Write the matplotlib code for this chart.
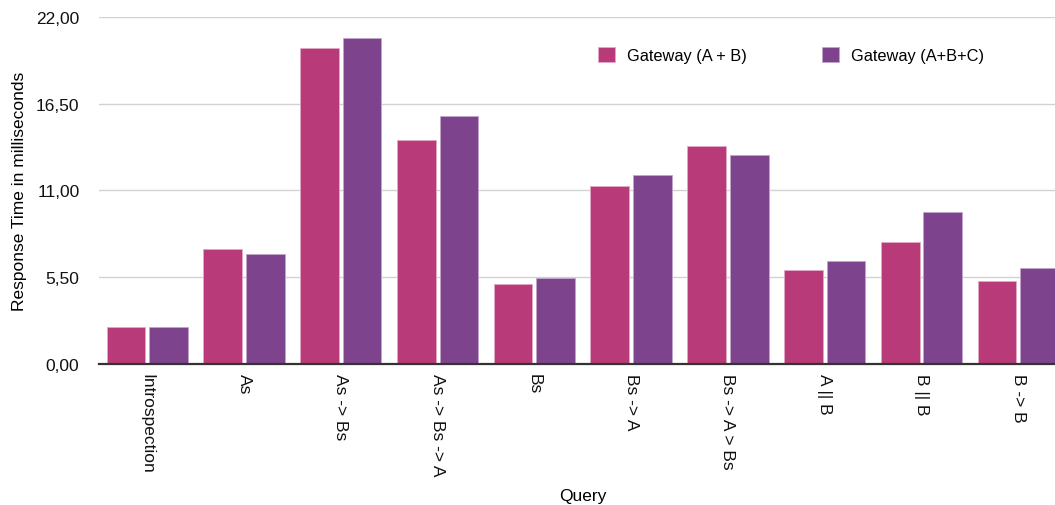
import numpy as np
from matplotlib import pyplot as plt

plt.rcParams['font.family'] = ['Liberation Sans', 'DejaVu Sans']

queries = ['Introspection', 'As', 'As -> Bs', 'As -> Bs -> A', 'Bs',
           'Bs -> A', 'Bs -> A > Bs', 'A || B', 'B || B', 'B -> B']
gateway_ab = [2.38, 7.28, 20.03, 14.19, 5.06, 11.27, 13.82, 5.97, 7.74, 5.25]
gateway_abc = [2.38, 6.99, 20.64, 15.73, 5.46, 11.98, 13.23, 6.56, 9.64, 6.12]
yticks = [0, 5.5, 11, 16.5, 22]
ytick_labels = ['0,00', '5,50', '11,00', '16,50', '22,00']

pink = '#B93A78'
purple = '#7D438C'

fig = plt.figure(figsize=(10.55, 5.06), dpi=100)
ax = fig.add_axes([0.0937, 0.2777, 0.9063, 0.6877])

x = np.arange(len(queries))
w = 0.4
ax.bar(x - 0.22, gateway_ab, w, color=pink, edgecolor='#e3a9c6', linewidth=0.6,
       label='Gateway (A + B)', zorder=3)
ax.bar(x + 0.22, gateway_abc, w, color=purple, edgecolor='#c3a5cc', linewidth=0.6,
       label='Gateway (A+B+C)', zorder=3)

ax.set_xlim(-0.5, 9.38)
ax.set_ylim(0, 22)
ax.set_yticks(yticks)
ax.set_yticklabels(ytick_labels)
ax.set_xticks(x)
ax.set_xticklabels(queries, rotation=270, ha='center', va='top')
ax.tick_params(axis='y', length=0, pad=14, labelsize=12.5, colors='#111111')
ax.tick_params(axis='x', length=0, pad=6, labelsize=12.5, colors='#111111')

ax.grid(axis='y', color='#d2d2d2', linewidth=1, zorder=0)
for s in ['top', 'right', 'left']:
    ax.spines[s].set_visible(False)
ax.spines['bottom'].set_color('#333333')
ax.spines['bottom'].set_linewidth(1.6)
ax.spines['bottom'].set_zorder(4)

ax.set_xlabel('Query', fontsize=12.5)
ax.xaxis.set_label_coords(5.0 / 9.88, -0.355)
ax.set_ylabel('Response Time in milliseconds', fontsize=12.5)
ax.yaxis.set_label_coords(-0.075, 0.5)

ax.legend(loc='upper left', bbox_to_anchor=(0.507, 0.955), ncol=2, frameon=False,
          handlelength=1.0, handleheight=1.0, handletextpad=0.75,
          columnspacing=4.6, fontsize=11.8)

fig.savefig('out.png', dpi=100)
